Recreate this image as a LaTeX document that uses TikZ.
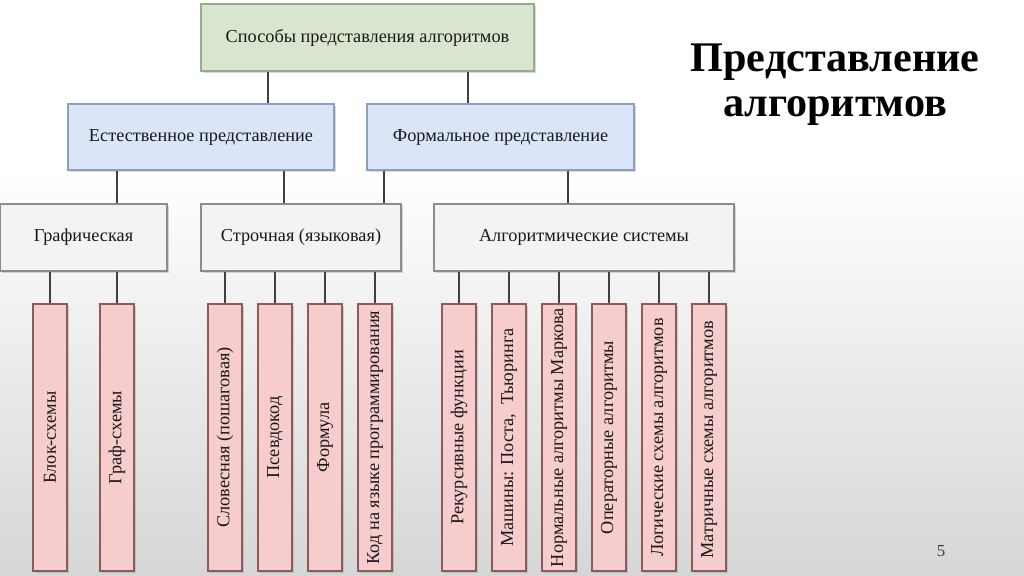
\documentclass[tikz,border=0pt]{standalone}
\usepackage{fontspec}
\setmainfont{Liberation Serif}
\usetikzlibrary{shadows}
\definecolor{topfill}{RGB}{216,229,207}
\definecolor{topline}{RGB}{150,172,138}
\definecolor{bluefill}{RGB}{218,230,248}
\definecolor{blueline}{RGB}{140,160,192}
\definecolor{greyfill}{RGB}{243,243,243}
\definecolor{greyline}{RGB}{140,140,140}
\definecolor{pinkfill}{RGB}{246,204,204}
\definecolor{pinkline}{RGB}{140,92,92}
\tikzset{
  box/.style={draw, line width=0.8pt, inner sep=0pt, align=center,
    font=\fontsize{13}{15.5}\selectfont, text=black!90,
    drop shadow={shadow xshift=1.2pt, shadow yshift=-1.2pt, opacity=0.3}},
  topbox/.style={box, fill=topfill, draw=topline},
  bluebox/.style={box, fill=bluefill, draw=blueline},
  greybox/.style={box, fill=greyfill, draw=greyline},
  leafbox/.style={box, fill=pinkfill, draw=pinkline, rotate=90,
    minimum width=6.675cm, minimum height=0.85cm},
  link/.style={draw=black!75, line width=0.8pt}
}
\begin{document}
\begin{tikzpicture}[x=0.025cm, y=-0.025cm]
   \useasboundingbox (0,0) rectangle (1024,576);
   \fill[white] (0,0) rectangle (1024,576);
   \shade[top color=white, bottom color=gray!32] (0,170) rectangle (1024,576);
   % title
   \node[font=\fontsize{30}{32}\selectfont\bfseries, align=center] (title) at (835,85)
     {Представление\\алгоритмов};
   \node[font=\fontsize{12}{14}\selectfont, text=black!75] (page) at (941,551) {5};
   % upper levels
   \node[topbox, minimum width=8.325cm, minimum height=1.675cm] (top) at (367.5,37.5)
     {Способы представления алгоритмов};
   \node[bluebox, minimum width=6.65cm, minimum height=1.65cm] (nat) at (201,137)
     {Естественное представление};
   \node[bluebox, minimum width=6.675cm, minimum height=1.65cm] (form) at (500.5,137)
     {Формальное представление};
   \node[greybox, minimum width=4.175cm, minimum height=1.675cm] (graph) at (83.5,237.5)
     {Графическая};
   \node[greybox, minimum width=5cm, minimum height=1.675cm] (line) at (301,237.5)
     {Строчная (языковая)};
   \node[greybox, minimum width=7.5cm, minimum height=1.675cm] (alg) at (584,237.5)
     {Алгоритмические системы};
   \draw[link] (top.south -| 268,0) -- (nat.north -| 268,0);
   \draw[link] (top.south -| 468,0) -- (form.north -| 468,0);
   \draw[link] (nat.south -| 117,0) -- (graph.north -| 117,0);
   \draw[link] (nat.south -| 284,0) -- (line.north -| 284,0);
   \draw[link] (form.south -| 384,0) -- (line.north -| 384,0);
   \draw[link] (form.south -| 568,0) -- (alg.north -| 568,0);
   % leaves
   \foreach \n/\x/\p/\l in
     { g1/50/graph/{Блок-схемы},
       g2/117/graph/{Граф-схемы},
       s1/225/line/{Словесная (пошаговая)},
       s2/275/line/{Псевдокод},
       s3/325/line/{Формула},
       s4/375/line/{Код на языке программирования},
       a1/459/alg/{Рекурсивные функции},
       a2/509/alg/{Машины: Поста,~ Тьюринга},
       a3/559/alg/{Нормальные алгоритмы Маркова},
       a4/609/alg/{Операторные алгоритмы},
       a5/659/alg/{Логические схемы алгоритмов},
       a6/709/alg/{Матричные схемы алгоритмов}
     }
   {
     \node[leafbox] (\n) at (\x,437.5) {\l};
     \draw[link] (\p.south -| \n.center) -- (\n.east);
   }
\end{tikzpicture}
\end{document}
